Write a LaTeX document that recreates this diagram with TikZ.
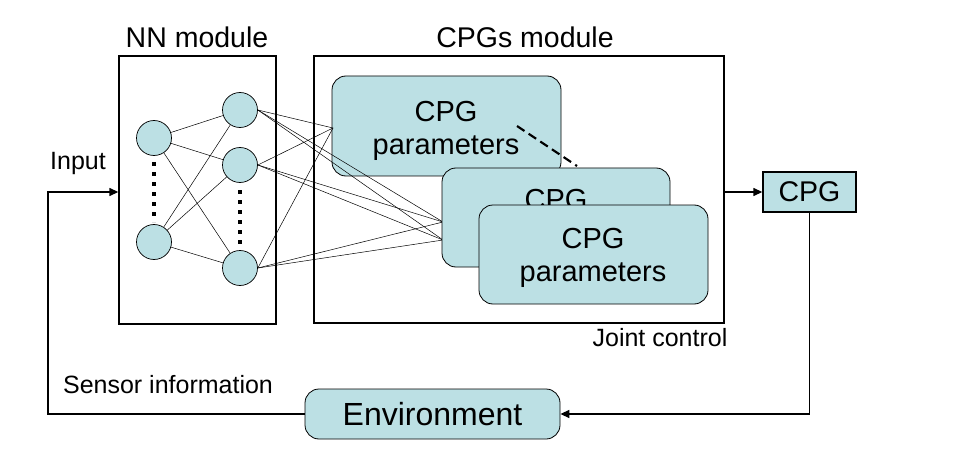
\documentclass[tikz,border=0pt]{standalone}
\usepackage{fontspec}
\setmainfont{Liberation Sans}
\usetikzlibrary{arrows.meta}
\begin{document}
\begin{tikzpicture}[x=1pt,y=-1pt,
  neuron/.style={circle,draw,fill=cpgfill,minimum size=35pt,inner sep=0pt,line width=0.7pt},
  cpgbox/.style={draw,fill=cpgfill,rounded corners=14pt,line width=0.8pt},
  module/.style={draw,line width=1.4pt},
  conn/.style={line width=0.5pt},
  fb/.style={line width=1.4pt},
  arr/.style={fb,-{Triangle[length=9pt,width=8pt]}},
  dots/.style={line width=4pt,dash pattern=on 4pt off 6pt},
  big/.style={font=\fontsize{29}{33}\selectfont,align=center},
  mid/.style={font=\fontsize{28.5}{32}\selectfont},
  small/.style={font=\fontsize{25}{28}\selectfont}]
\definecolor{cpgfill}{HTML}{BCE0E4}
\useasboundingbox (0,0) rectangle (964,468);
\fill[white] (0,0) rectangle (964,468);
% modules
\node[module,minimum width=157pt,minimum height=268pt,inner sep=0pt] (nn) at (197.5,190) {};
\node[module,minimum width=410pt,minimum height=267pt,inner sep=0pt] (cpgs) at (519,189.5) {};
\node[mid] (nnlab) at (197,37) {NN module};
\node[mid] (cpglab) at (525,37) {CPGs module};
% neurons
\node[neuron] (l1) at (154,138) {};
\node[neuron] (l2) at (154,242) {};
\node[neuron] (r1) at (240,110) {};
\node[neuron] (r2) at (240,165) {};
\node[neuron] (r3) at (240,268) {};
\draw[dots] (154,162) -- (154,222);
\draw[dots] (240,190) -- (240,248);
\foreach \a in {l1,l2}\foreach \b in {r1,r2,r3} \draw[conn] (\a) -- (\b);
% CPG boxes
\draw[cpgbox] (332,76) rectangle (561,176);
\node[big] (c1) at (446,131) {CPG\\parameters};
\coordinate (p1) at (333,128);
\coordinate (p2) at (443,222);
\coordinate (p3) at (443,240);
\foreach \b in {r1,r2,r3}{\draw[conn] (\b.east) -- (p1); \draw[conn] (\b.east) -- (p2); \draw[conn] (\b.east) -- (p3);}
\draw[cpgbox] (442,168) rectangle (670,267);
\node[big] (c2) at (556,200) {CPG};
\draw[cpgbox] (479,205) rectangle (708,304);
\node[big] (c3) at (593,258) {CPG\\parameters};
\coordinate (d1) at (517,126);
\coordinate (d2) at (577,166);
\draw[line width=2.2pt,dash pattern=on 9pt off 5pt] (d1) -- (d2);
% right side
\node[draw,fill=cpgfill,line width=1.4pt,minimum width=93pt,minimum height=40pt,inner sep=0pt,mid] (cpg) at (809.5,192) {CPG};
\draw[arr] (cpgs.east |- cpg) -- (cpg.west);
\node[small] (jc) at (660,338) {Joint control};
\node[cpgbox,minimum width=255pt,minimum height=50pt,inner sep=0pt,font=\fontsize{32}{36}\selectfont] (env) at (432.5,414) {Environment};
\coordinate (c_br) at (809.5,414);
\draw[arr] (cpg.south) -- (c_br) -- (env.east);
\coordinate (c_bl) at (48,414);
\coordinate (c_tl) at (48,192);
\draw[arr] (env.west) -- (c_bl) -- (c_tl) -- (nn.west |- c_tl);
\node[small] (inp) at (78,163) {Input};
\node[small] (sens) at (168,385) {Sensor information};
\end{tikzpicture}
\end{document}
